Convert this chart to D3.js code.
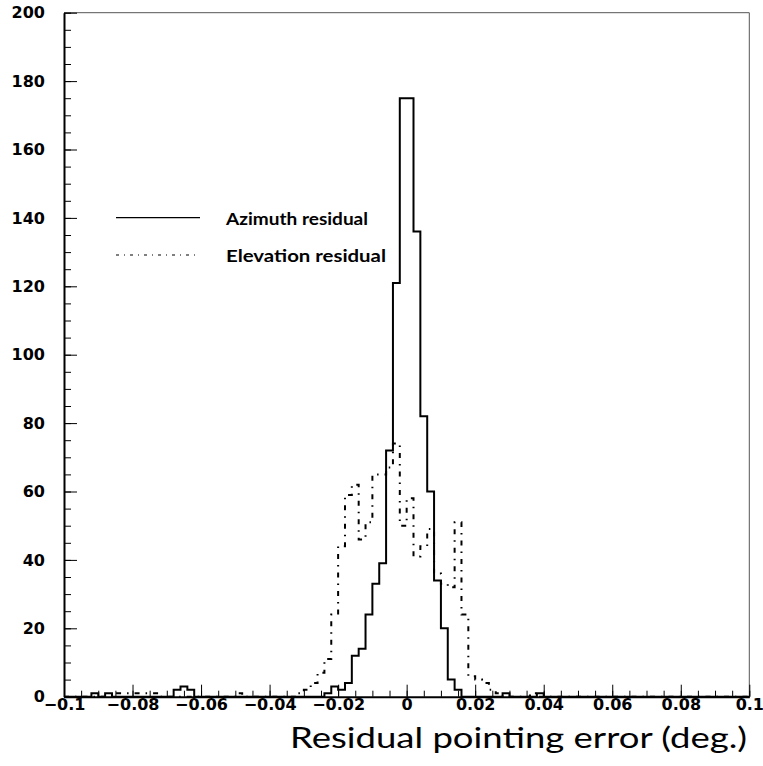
<!DOCTYPE html>
<html>
<head>
<meta charset="utf-8">
<script src="https://cdn.jsdelivr.net/npm/d3@7"></script>
<style>
  body { margin: 0; background: #fff; }
  svg { display: block; }
</style>
</head>
<body>
<svg id="chart" width="763" height="766"></svg>
<script>
// histogram: 100 bins of 0.002 deg between -0.1 and 0.1
var xMin= -0.1, xMax= 0.1, binWidth= 0.002;

var azimuthCounts= [
  0,0,0,0,1,0,1,0,0,0,
  0,0,0,0,0,0,2,3,2,0,
  0,0,0,0,0,0,0,0,0,0,
  0,0,0,0,0,0,0,0,1,3,
  2,4,12,14,24,33,39,72,121,175,
  175,136,82,60,34,20,5,2,0,0,
  0,0,0,0,1,0,0,0,0,1,
  0,0,0,0,0,0,0,0,0,0,
  0,0,0,0,0,0,0,0,0,0,
  0,0,0,0,0,0,0,0,0,0
];

var elevationCounts= [
  0,0,0,0,0,0,0,1,1,1,
  1,1,1,1,0,0,0,0,0,0,
  0,0,0,0,0,1,0,0,0,0,
  0,0,0,0,1,2,4,7,11,24,
  44,59,62,46,51,65,65,67,74,50,
  58,41,44,49,36,33,32,51,24,6,
  5,4,2,1,0,0,0,0,1,0,
  0,0,0,0,0,0,0,0,0,0,
  0,0,0,0,0,0,0,0,0,0,
  0,0,0,0,0,0,0,0,0,0
];

var xTicks= [-0.1,-0.08,-0.06,-0.04,-0.02,0,0.02,0.04,0.06,0.08,0.1];
var yTicks= [0,20,40,60,80,100,120,140,160,180,200];
var seriesNames= ["Azimuth residual","Elevation residual"];
var xTitle= "Residual pointing error (deg.)";

//Frame of the pad
var padL= 64, padR= 749.3, padT= 12.7, padB= 696.7;

var svg= d3.select("#chart");

var x= d3.scaleLinear().domain([xMin,xMax]).range([padL,padR]);
var y= d3.scaleLinear().domain([0,200]).range([padB,padT]);

//Thin top/right border
svg.append("path")
   .attr("d","M"+padL+","+padT+"H"+padR+"V"+padB)
   .attr("fill","none")
   .attr("stroke","#555")
   .attr("stroke-width",1);

function stepPoints(counts) {
    var pts= [[xMin,0]];
    counts.forEach(function(c,i) {
        pts.push([xMin + i*binWidth, c]);
    });
    pts.push([xMax, counts[counts.length-1]]);
    pts.push([xMax, 0]);
    return pts;
}

var line= d3.line()
            .x(function(d) { return x(d[0]); })
            .y(function(d) { return y(d[1]); })
            .curve(d3.curveStepAfter);

svg.append("path")
   .attr("class","elevation")
   .attr("d",line(stepPoints(elevationCounts)))
   .attr("fill","none")
   .attr("stroke","#000")
   .attr("stroke-width",2)
   .attr("stroke-dasharray","5,6,1.5,6");

svg.append("path")
   .attr("class","azimuth")
   .attr("d",line(stepPoints(azimuthCounts)))
   .attr("fill","none")
   .attr("stroke","#000")
   .attr("stroke-width",2);

//Minor ticks first, then the labelled axes
svg.append("g")
   .attr("transform","translate(0,"+padB+")")
   .call(d3.axisBottom(x).tickValues(d3.range(-20,21).map(function(i){ return i*0.005; }))
           .tickSizeInner(-6).tickSizeOuter(0).tickFormat(""))
   .call(function(g){ g.select(".domain").remove(); });

svg.append("g")
   .attr("transform","translate("+padL+",0)")
   .call(d3.axisLeft(y).tickValues(d3.range(0,201,5))
           .tickSizeInner(-7).tickSizeOuter(0).tickFormat(""))
   .call(function(g){ g.select(".domain").remove(); });

var fmt= d3.format("~g");

var xAxis= svg.append("g")
   .attr("transform","translate(0,"+padB+")")
   .call(d3.axisBottom(x).tickValues(xTicks).tickSizeInner(-12).tickSizeOuter(0)
           .tickPadding(2).tickFormat(function(d){ return d===0 ? "0" : fmt(d); }));

var yAxis= svg.append("g")
   .attr("transform","translate("+padL+",0)")
   .call(d3.axisLeft(y).tickValues(yTicks).tickSizeInner(-13).tickSizeOuter(0)
           .tickPadding(19));

[xAxis,yAxis].forEach(function(g) {
    g.select(".domain").attr("stroke-width",2);
    g.selectAll("text")
     .attr("font-family","DejaVu Sans")
     .attr("font-weight","bold")
     .attr("font-size",16)
     .attr("fill","#000");
});
svg.selectAll(".tick line").attr("stroke","#000");

//Legend
var legend= svg.append("g").attr("class","legend");
var legendRows= [
    {name: seriesNames[0], y: 217.7, dash: null, tx: 224.5, len: 142},
    {name: seriesNames[1], y: 255, dash: "3,5,1,5", tx: 261.5, len: 160}
];
legendRows.forEach(function(r) {
    legend.append("line")
          .attr("x1",116).attr("x2",200)
          .attr("y1",r.y).attr("y2",r.y)
          .attr("stroke","#000")
          .attr("stroke-width",1.2)
          .attr("stroke-dasharray",r.dash);
    legend.append("text")
          .attr("x",226).attr("y",r.tx)
          .attr("font-family","Lato")
          .attr("font-weight","bold")
          .attr("font-size",17)
          .attr("textLength",r.len)
          .attr("lengthAdjust","spacingAndGlyphs")
          .text(r.name);
});

//Axis title
svg.append("text")
   .attr("x",290)
   .attr("y",747.5)
   .attr("font-family","Lato")
   .attr("font-size",29)
   .attr("textLength",457)
   .attr("lengthAdjust","spacingAndGlyphs")
   .text(xTitle);
</script>
</body>
</html>
